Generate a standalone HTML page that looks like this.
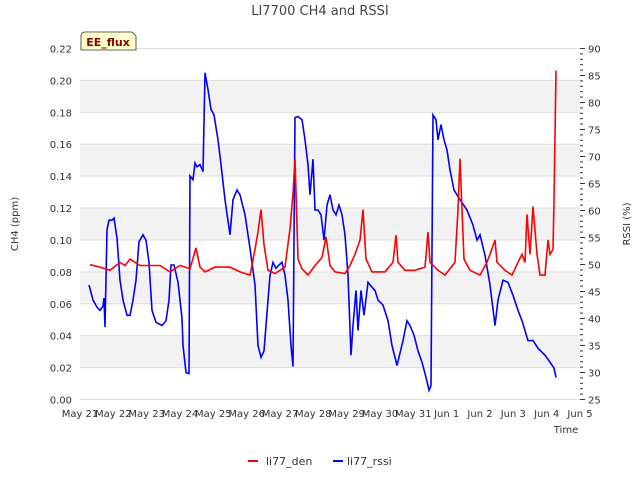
<!DOCTYPE html>
<html><head><meta charset="utf-8"><style>
body{margin:0;background:#fff;font-family:"Liberation Sans",sans-serif}
svg text{font-family:"DejaVu Sans","Liberation Sans",sans-serif}
</style></head><body>
<svg id="c" width="640" height="480" xmlns="http://www.w3.org/2000/svg">
<text x="320" y="15" text-anchor="middle" font-size="13" fill="#444">LI7700 CH4 and RSSI</text>
<g id="bands"></g><g id="grid"></g><g id="axes"></g><g id="series"></g>
<text transform="translate(18,224) rotate(-90)" text-anchor="middle" font-size="10" fill="#333">CH4 (ppm)</text>
<text transform="translate(630,224) rotate(-90)" text-anchor="middle" font-size="10" fill="#333">RSSI (%)</text>
<text x="566" y="433" text-anchor="middle" font-size="10" fill="#333">Time</text>
<g>
<path d="M81,50 L81,36 Q81,32 85,32 L132,32 L136,36 L136,50 Z" fill="#ffffcc" stroke="#333" stroke-width="0.8"/>
<text x="108" y="46" text-anchor="middle" font-size="11" font-weight="bold" fill="#8b0000">EE_flux</text></g>
<g>
<g><line x1="248" y1="461" x2="258" y2="461" stroke="#f00" stroke-width="2"/><text x="266" y="465" font-size="11" fill="#333">li77_den</text></g>
<g><line x1="333" y1="461" x2="343" y2="461" stroke="#00f" stroke-width="2"/><text x="347" y="465" font-size="11" fill="#333">li77_rssi</text></g>
</g>
</svg>
<script>
const xTickLabels=["May 21","May 22","May 23","May 24","May 25","May 26","May 27","May 28","May 29","May 30","May 31","Jun 1","Jun 2","Jun 3","Jun 4","Jun 5"];
const yTicks=[0,0.02,0.04,0.06,0.08,0.10,0.12,0.14,0.16,0.18,0.20,0.22];
const y2Ticks=[25,30,35,40,45,50,55,60,65,70,75,80,85,90];
const denSeries=[[0.3,0.0845],[0.6,0.083],[0.9,0.081],[1.2,0.086],[1.35,0.084],[1.5,0.088],[1.8,0.084],[2.1,0.084],[2.4,0.084],[2.7,0.080],[3.0,0.084],[3.3,0.082],[3.48,0.095],[3.6,0.083],[3.75,0.080],[4.05,0.083],[4.5,0.083],[4.8,0.080],[5.1,0.078],[5.25,0.094],[5.34,0.105],[5.43,0.119],[5.52,0.097],[5.64,0.081],[5.85,0.079],[6.15,0.083],[6.3,0.107],[6.39,0.129],[6.45,0.151],[6.54,0.088],[6.66,0.082],[6.84,0.078],[7.05,0.084],[7.26,0.089],[7.38,0.102],[7.5,0.084],[7.65,0.080],[7.95,0.079],[8.1,0.084],[8.25,0.091],[8.4,0.100],[8.49,0.119],[8.58,0.088],[8.76,0.080],[9.15,0.080],[9.39,0.086],[9.48,0.103],[9.54,0.086],[9.75,0.081],[10.05,0.081],[10.35,0.083],[10.44,0.105],[10.5,0.086],[10.74,0.081],[10.95,0.078],[11.25,0.086],[11.34,0.119],[11.4,0.151],[11.46,0.119],[11.52,0.088],[11.7,0.081],[12.0,0.078],[12.21,0.086],[12.3,0.091],[12.45,0.100],[12.51,0.086],[12.75,0.081],[12.96,0.078],[13.14,0.086],[13.26,0.091],[13.35,0.086],[13.41,0.116],[13.5,0.091],[13.59,0.121],[13.71,0.091],[13.8,0.078],[13.95,0.078],[14.04,0.100],[14.1,0.091],[14.19,0.094],[14.22,0.125],[14.28,0.206]];
const rssiSeries=[[0.27,46.2],[0.39,43.4],[0.51,42.1],[0.6,41.5],[0.69,42.3],[0.72,43.8],[0.75,38.4],[0.81,56.4],[0.87,58.2],[0.96,58.2],[1.02,58.6],[1.11,54.9],[1.2,47.1],[1.29,43.4],[1.41,40.6],[1.5,40.6],[1.59,43.4],[1.68,47.1],[1.77,54.2],[1.89,55.5],[1.98,54.5],[2.07,50.4],[2.16,41.5],[2.28,39.3],[2.46,38.7],[2.58,39.6],[2.67,43.4],[2.73,49.9],[2.82,49.9],[2.94,46.7],[3.0,43.4],[3.06,40.0],[3.09,35.0],[3.18,30.0],[3.27,29.8],[3.30,66.4],[3.39,65.7],[3.45,68.8],[3.51,68.1],[3.6,68.5],[3.69,67.2],[3.75,85.5],[3.84,82.4],[3.93,78.7],[4.02,77.7],[4.14,73.1],[4.23,68.5],[4.35,62.0],[4.5,55.5],[4.59,62.0],[4.71,63.8],[4.8,62.9],[4.95,59.2],[5.1,53.0],[5.25,46.2],[5.34,35.0],[5.43,32.8],[5.52,34.0],[5.58,38.7],[5.7,48.0],[5.79,50.4],[5.88,49.3],[5.97,49.9],[6.06,50.4],[6.15,48.0],[6.24,43.4],[6.33,35.0],[6.39,31.1],[6.45,77.2],[6.54,77.4],[6.66,76.8],[6.75,73.1],[6.84,68.5],[6.9,62.9],[6.99,69.5],[7.05,60.1],[7.14,60.1],[7.23,59.2],[7.32,54.5],[7.41,61.0],[7.5,62.9],[7.59,60.1],[7.68,59.2],[7.77,61.0],[7.86,59.2],[7.95,55.5],[8.04,48.0],[8.13,33.2],[8.19,38.7],[8.28,45.2],[8.34,37.8],[8.43,45.2],[8.52,40.6],[8.64,46.7],[8.76,45.8],[8.85,45.2],[8.94,43.4],[9.09,42.5],[9.24,39.6],[9.36,35.0],[9.51,31.3],[9.69,35.9],[9.81,39.6],[9.9,38.7],[10.02,36.9],[10.14,34.0],[10.26,31.9],[10.35,29.8],[10.44,27.6],[10.47,26.7],[10.53,27.6],[10.59,77.7],[10.68,76.8],[10.74,73.1],[10.83,75.9],[10.92,73.1],[11.01,71.2],[11.1,67.5],[11.22,63.8],[11.4,62.0],[11.61,60.1],[11.79,57.3],[11.91,54.5],[12.0,55.5],[12.15,51.7],[12.3,46.2],[12.45,38.7],[12.54,43.4],[12.69,47.1],[12.84,46.7],[12.99,44.3],[13.14,41.5],[13.26,39.6],[13.44,35.9],[13.59,35.9],[13.74,34.5],[13.95,33.2],[14.1,31.9],[14.22,30.8],[14.28,29.1]];
const NS="http://www.w3.org/2000/svg";
const X0=80,X1=580,YB=399.5,YT=48.5;
const xs=d=>X0+(X1-X0)*d/15;
const ys=v=>YB-(YB-YT)*v/0.22;
const y2s=v=>YB-(YB-YT)*(v-25)/65;
function mk(tag,at,parent){const e=document.createElementNS(NS,tag);for(const k in at)e.setAttribute(k,at[k]);document.getElementById(parent).appendChild(e);return e;}
for(let i=0;i<yTicks.length;i++){
  const y=ys(yTicks[i]);
  if(i%2===1&&i<yTicks.length-1){const b=mk('rect',{x:X0,y:ys(yTicks[i+1]),width:X1-X0,height:y-ys(yTicks[i+1]),fill:'#f2f2f2'},'bands');
  
  }
  const g=mk('line',{x1:X0,x2:X1,y1:y,y2:y,stroke:'#ddd','stroke-width':1},'grid');
  
  
  const t=mk('text',{x:72,y:y+4,'text-anchor':'end','font-size':10,fill:'#333'},'axes');t.textContent=yTicks[i].toFixed(2);
  
  
}
for(let v=25;v<=90;v++){const y=y2s(v);const major=v%5===0;
  const l=mk('line',{x1:X1,x2:X1+(major?5:3),y1:y,y2:y,stroke:'#333','stroke-width':1},'axes');
  
  }
y2Ticks.forEach(v=>{const t=mk('text',{x:588,y:y2s(v)+4,'font-size':10,fill:'#333'},'axes');t.textContent=v;
  
  });
xTickLabels.forEach((s,i)=>{const t=mk('text',{x:xs(i),y:417,'text-anchor':'middle','font-size':10,fill:'#333'},'axes');t.textContent=s;
  
  });
const pd=denSeries.map((p,i)=>(i?'L':'M')+xs(p[0]).toFixed(1)+','+ys(p[1]).toFixed(1)).join('');
const pr=rssiSeries.map((p,i)=>(i?'L':'M')+xs(p[0]).toFixed(1)+','+y2s(p[1]).toFixed(1)).join('');
const a=mk('path',{d:pr,fill:'none',stroke:'#00f','stroke-width':1.6},'series');


const b=mk('path',{d:pd,fill:'none',stroke:'#f00','stroke-width':1.6},'series');


</script>
</body></html>
